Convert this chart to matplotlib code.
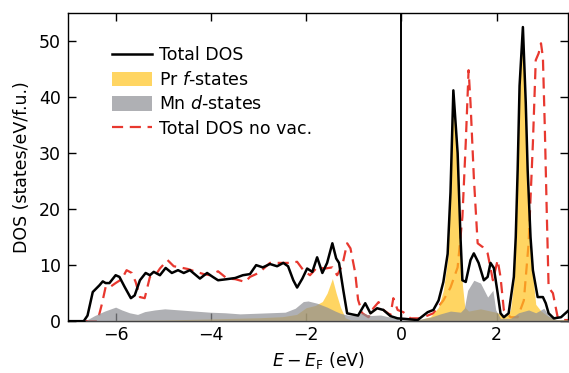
import matplotlib
matplotlib.use("Agg")
import matplotlib.pyplot as plt
import numpy as np

# total DOS (with vacancy)
e_tot = [-7.0, -6.67, -6.59, -6.48, -6.34, -6.27, -6.21, -6.13, -6.00, -5.92,
         -5.81, -5.68, -5.60, -5.49, -5.37, -5.28, -5.20, -5.07, -4.95, -4.82,
         -4.69, -4.57, -4.44, -4.23, -4.08, -3.96, -3.85, -3.66, -3.49, -3.33,
         -3.18, -3.05, -2.91, -2.76, -2.61, -2.48, -2.38, -2.27, -2.19, -2.08,
         -1.98, -1.87, -1.77, -1.66, -1.56, -1.45, -1.37, -1.31, -1.22, -1.14,
         -1.03, -0.91, -0.76, -0.65, -0.51, -0.38, -0.23, -0.08, 0.08, 0.34,
         0.55, 0.67, 0.78, 0.88, 0.97, 1.03, 1.09, 1.18, 1.24, 1.28, 1.35,
         1.45, 1.52, 1.62, 1.73, 1.81, 1.87, 1.94, 2.02, 2.08, 2.15,
         2.25, 2.36, 2.40, 2.44, 2.48, 2.55, 2.61, 2.65, 2.71, 2.76, 2.86, 2.97,
         3.03, 3.09, 3.20, 3.35, 3.52]
dos_tot = [0, 0, 1.0, 5.2, 6.4, 7.1, 6.8, 6.8, 8.2, 7.9,
           6.1, 4.1, 4.6, 7.3, 8.6, 8.2, 8.8, 8.2, 9.5, 8.6,
           9.1, 8.6, 9.1, 7.6, 8.6, 7.9, 7.3, 7.5, 7.7, 8.2,
           8.4, 10.0, 9.6, 10.2, 9.8, 10.4, 9.8, 7.3, 6.0, 7.6,
           9.4, 8.8, 11.4, 8.6, 10.4, 13.9, 11.2, 10.4, 5.5, 1.4,
           1.2, 1.0, 3.2, 1.4, 2.3, 2.0, 0.9, 0.5, 0.4, 0.2,
           1.6, 2.0, 3.7, 7.0, 12.0, 23.0, 41.2, 30.0, 15.0, 7.3, 7.0,
           10.9, 12.1, 10.4, 7.3, 7.9, 10.4, 9.5, 5.0, 1.4, 0.7,
           1.4, 7.9, 15.0, 27.0, 42.0, 52.5, 39.0, 27.0, 15.0, 9.1, 4.3, 4.3,
           3.2, 1.4, 0.5, 0.7, 2.0]

# total DOS without vacancy
e_novac = [-7.0, -6.38, -6.29, -6.21, -6.15, -6.00, -5.87, -5.77, -5.66, -5.58,
           -5.49, -5.39, -5.28, -5.18, -5.07, -4.91, -4.78, -4.65, -4.48, -4.29,
           -4.15, -4.02, -3.85, -3.66, -3.49, -3.28, -3.18, -3.05, -2.93, -2.76,
           -2.55, -2.34, -2.19, -2.06, -1.92, -1.77, -1.60, -1.45, -1.35, -1.24,
           -1.14, -1.07, -0.97, -0.91, -0.82, -0.69, -0.59, -0.48, -0.38, -0.23,
           -0.17, -0.08, 0.04, 0.19, 0.40, 0.67, 0.88, 1.03, 1.18, 1.28,
           1.35, 1.41, 1.45, 1.52, 1.60, 1.71, 1.81, 1.92, 2.02, 2.08,
           2.15, 2.29, 2.44, 2.57, 2.67, 2.76, 2.82, 2.88, 2.93, 2.97,
           3.01, 3.05, 3.09, 3.18, 3.28, 3.41, 3.54]
dos_novac = [0, 0, 3.0, 6.1, 5.9, 6.8, 7.5, 9.1, 8.6, 7.0,
             4.3, 4.1, 7.9, 8.0, 9.4, 10.9, 9.8, 9.6, 9.3, 8.75,
             8.4, 8.2, 8.9, 7.6, 7.5, 7.0, 7.9, 8.4, 9.1, 10.4,
             10.4, 10.4, 10.6, 9.1, 8.2, 9.6, 9.4, 9.6, 8.2, 10.0,
             13.9, 13.0, 8.6, 3.8, 1.4, 0.7, 2.3, 3.4, 2.0, 1.1,
             4.1, 2.0, 1.6, 0.5, 0.5, 1.4, 3.7, 6.0, 9.6, 18.6,
             31.8, 44.8, 39.0, 25.7, 13.9, 13.2, 12.1, 7.3, 10.9, 7.9,
             2.0, 0.7, 0.7, 3.7, 13.9, 31.8, 46.6, 47.8, 49.6, 47.1,
             34.6, 19.8, 6.0, 5.0, 0.7, 0.2, 0.2]

# Pr f projected DOS
e_pr = [-7.0, -6.5, -5.0, -4.0, -3.0, -2.5, -2.2, -2.0, -1.81, -1.66,
        -1.56, -1.45, -1.37, -1.28, -1.18, -1.07, -0.5, 0.0, 0.4, 0.61,
        0.78, 0.88, 0.97, 1.03, 1.09, 1.18, 1.24, 1.28, 1.33, 1.41, 1.66,
        1.98, 2.19, 2.29, 2.36, 2.40, 2.44, 2.48, 2.55, 2.61, 2.65, 2.71, 2.76,
        2.82, 2.93, 3.09, 3.24, 3.54]
dos_pr = [0, 0.1, 0.2, 0.4, 0.6, 0.8, 1.2, 2.4, 2.8, 3.5,
          5.0, 7.6, 5.0, 2.5, 0.6, 0.2, 0.2, 0.1, 0.3, 0.8,
          2.5, 5.5, 11.0, 22.0, 39.5, 29.0, 14.0, 6.5, 2.5, 1.8, 2.2,
          1.6, 0.8, 2.0, 7.0, 14.5, 26.5, 41.5, 52.5, 38.5, 26.5, 14.0, 8.0,
          3.0, 1.8, 0.8, 0.3, 0.2]

# Mn d projected DOS
e_mn = [-7.0, -6.65, -6.44, -6.23, -6.00, -5.87, -5.71, -5.54, -5.39, -5.18,
        -4.97, -4.65, -4.34, -4.02, -3.71, -3.39, -3.07, -2.76, -2.44, -2.23,
        -2.06, -1.96, -1.77, -1.56, -1.39, -1.28, -1.14, -0.97, -0.82, -0.65,
        -0.44, -0.23, -0.02, 0.29, 0.61, 0.82, 1.03, 1.24, 1.32, 1.39,
        1.52, 1.66, 1.81, 1.92, 1.98, 2.08, 2.29, 2.46, 2.67, 2.82,
        2.99, 3.09, 3.24, 3.54]
dos_mn = [0, 0, 1.0, 1.8, 2.5, 2.0, 1.5, 1.2, 1.7, 2.0,
          2.2, 2.0, 1.8, 1.6, 1.5, 1.3, 1.4, 1.5, 1.6, 2.3,
          3.5, 3.6, 3.2, 2.5, 1.8, 1.4, 1.1, 1.0, 1.5, 1.0,
          1.1, 0.7, 0.3, 0.2, 0.7, 1.3, 1.8, 1.6, 2.3, 5.5,
          7.3, 6.8, 4.3, 5.5, 2.0, 0.5, 0.5, 1.5, 2.0, 1.5,
          2.3, 1.0, 0.3, 0.2]

fig = plt.figure(figsize=(5.69, 3.73), dpi=100)
ax = fig.add_axes([0.1195, 0.139, 0.879, 0.826])

ax.plot(e_novac, dos_novac, color='#e8382f', lw=1.6, ls=(0, (5, 3)),
        label='Total DOS no vac.', zorder=1)
ax.fill_between(e_pr, dos_pr, color='#ffc41f', alpha=0.7, lw=0,
                label='Pr $f$-states', zorder=2)
ax.fill_between(e_mn, dos_mn, color='#8e8f94', alpha=0.7, lw=0,
                label='Mn $d$-states', zorder=3)
ax.plot(e_tot, dos_tot, color='black', lw=1.8, label='Total DOS', zorder=4)
ax.axvline(0, color='black', lw=1.4, zorder=5)

ax.set_xlim(-7, 3.5)
ax.set_ylim(0, 55)
ax.set_xticks([-6, -4, -2, 0, 2])
ax.set_yticks([0, 10, 20, 30, 40, 50])
ax.tick_params(direction='in', top=True, right=True, length=6, width=1,
               labelsize=12.5)
ax.tick_params(axis='y', pad=5)
for s in ax.spines.values():
    s.set_linewidth(1.0)

ax.set_xlabel(r'$E - E_\mathrm{F}$ (eV)', fontsize=12.5)
ax.set_ylabel('DOS (states/eV/f.u.)', fontsize=12.5, labelpad=6)

h, l = ax.get_legend_handles_labels()
order = [3, 1, 2, 0]
ax.legend([h[i] for i in order], [l[i] for i in order], loc='upper left',
          bbox_to_anchor=(0.074, 0.915), frameon=False, fontsize=12.5,
          handlelength=2.3, handleheight=0.9, labelspacing=0.38,
          handletextpad=0.4, borderaxespad=0)

fig.savefig('out.png', dpi=100)
